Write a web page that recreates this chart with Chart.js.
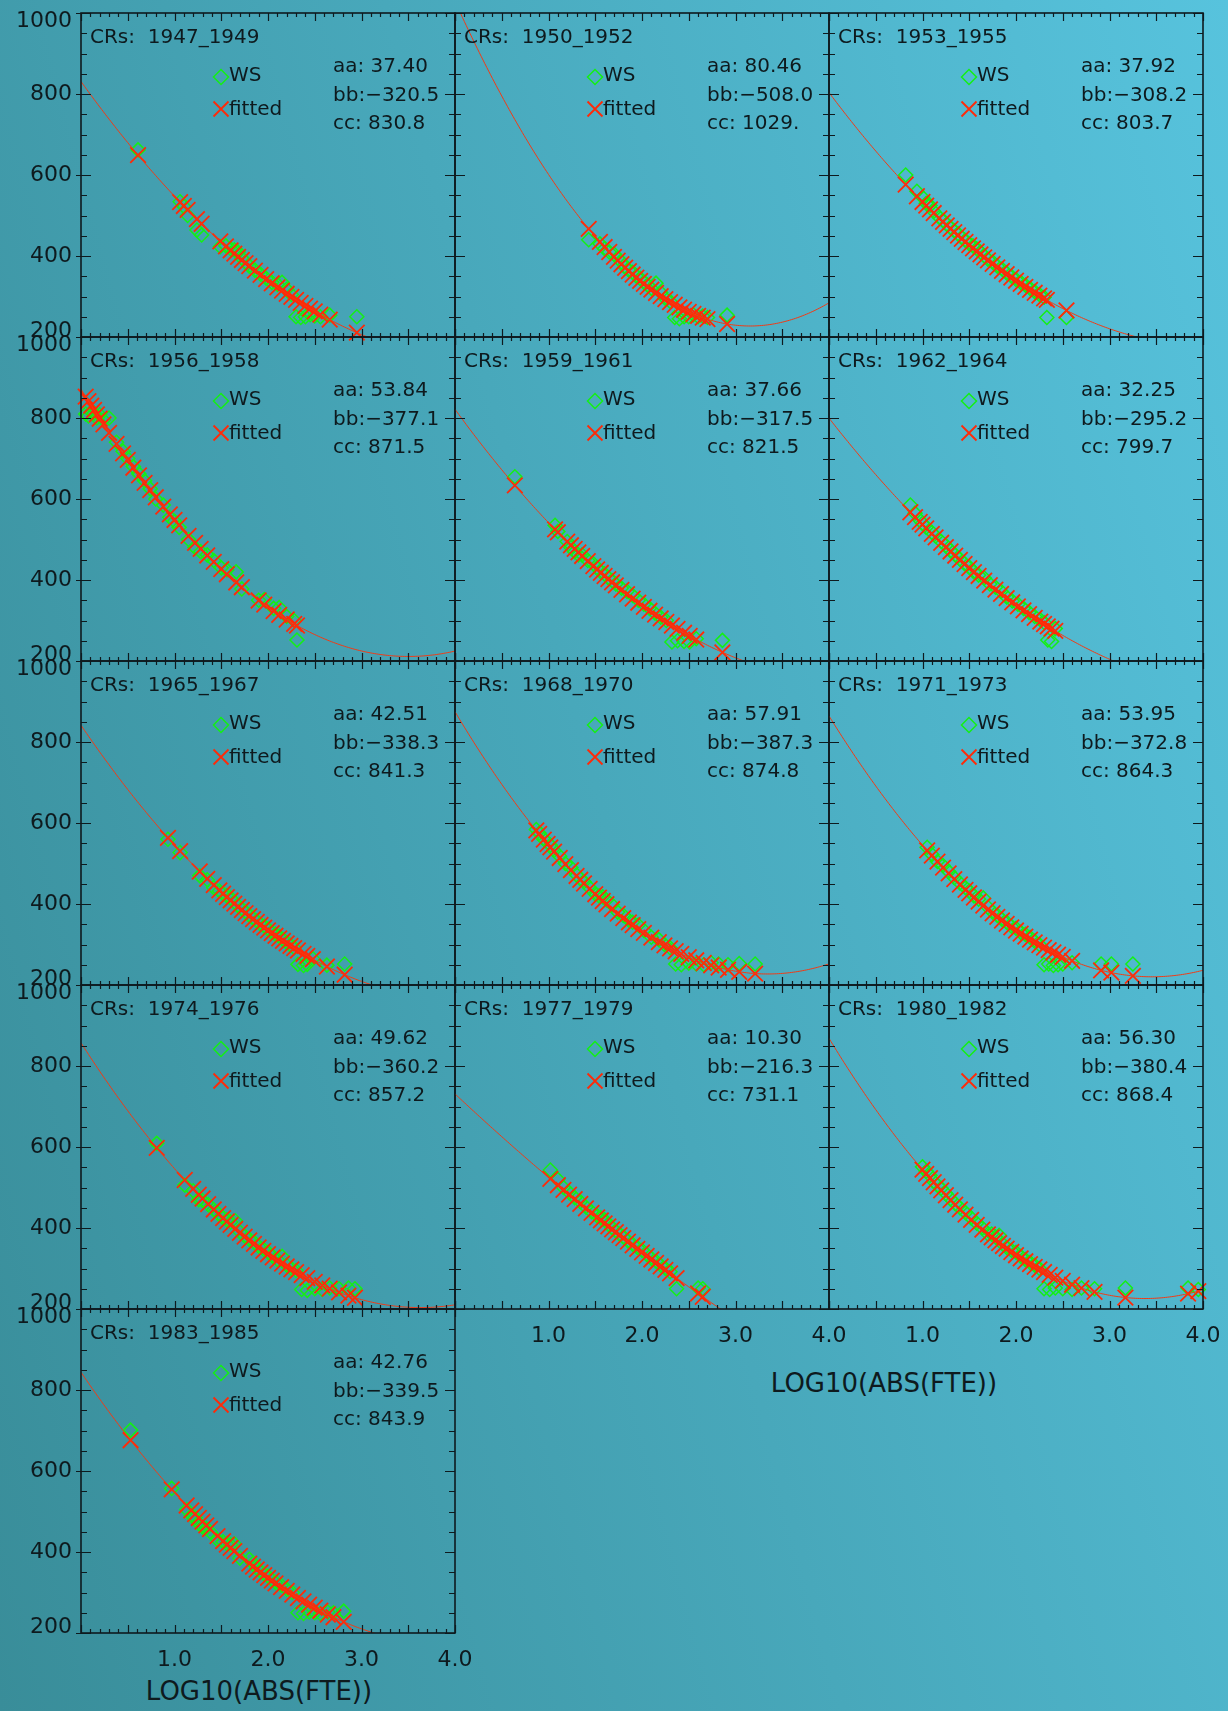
<!DOCTYPE html>
<html lang="en">
<head>
  <meta charset="UTF-8">
  <title>WS vs LOG10(ABS(FTE)) fits</title>
  <script src="https://cdn.jsdelivr.net/npm/chart.js"></script>
  <style>
    html, body { margin: 0; padding: 0; }
    body {
      width: 1228px;
      height: 1711px;
      position: relative;
      overflow: hidden;
      background: linear-gradient(75deg, #398d99 0%, #57c3dd 100%);
      font-family: 'DejaVu Sans', sans-serif;
    }
    canvas { position: absolute; }
    .xtitle {
      position: absolute;
      font-size: 26px;
      color: #0e1a1e;
      transform: translate(-50%, -50%);
      white-space: nowrap;
    }
  </style>
</head>
<body>
  <div class="xtitle" style="left:259px; top:1691px">LOG10(ABS(FTE))</div>
  <div class="xtitle" style="left:884px; top:1383px">LOG10(ABS(FTE))</div>

  <script>
    // Carrington rotation groups, one panel each
    const periods = ['1947_1949', '1950_1952', '1953_1955', '1956_1958', '1959_1961', '1962_1964',
                     '1965_1967', '1968_1970', '1971_1973', '1974_1976', '1977_1979', '1980_1982', '1983_1985'];

    // fit coefficients: WS = aa*x^2 + bb*x + cc
    const coefA = [37.40, 80.46, 37.92, 53.84, 37.66, 32.25, 42.51, 57.91, 53.95, 49.62, 10.30, 56.30, 42.76];
    const coefB = [-320.5, -508.0, -308.2, -377.1, -317.5, -295.2, -338.3, -387.3, -372.8, -360.2, -216.3, -380.4, -339.5];
    const coefC = [830.8, 1029, 803.7, 871.5, 821.5, 799.7, 841.3, 874.8, 864.3, 857.2, 731.1, 868.4, 843.9];

    // x = LOG10(ABS(FTE)) per panel
    const logFte = [
      [0.61,1.06,1.10,1.14,1.24,1.29,1.49,1.55,1.60,1.64,1.68,1.72,1.76,1.80,1.86,1.92,1.98,2.04,2.10,2.15,2.20,2.25,2.30,2.35,2.40,2.45,2.50,2.56,2.66,2.95],
      [1.43,1.55,1.60,1.65,1.70,1.74,1.78,1.82,1.86,1.90,1.94,1.98,2.02,2.06,2.10,2.15,2.20,2.25,2.30,2.35,2.40,2.45,2.50,2.55,2.60,2.65,2.70,2.91],
      [0.82,0.94,1.00,1.04,1.08,1.12,1.18,1.22,1.26,1.30,1.34,1.38,1.42,1.46,1.50,1.54,1.58,1.62,1.66,1.70,1.75,1.80,1.85,1.90,1.95,2.00,2.05,2.10,2.15,2.20,2.25,2.30,2.33,2.54],
      [0.05,0.08,0.11,0.14,0.17,0.20,0.24,0.30,0.38,0.45,0.50,0.56,0.62,0.68,0.74,0.80,0.88,0.95,1.00,1.05,1.15,1.22,1.28,1.35,1.42,1.50,1.56,1.66,1.72,1.90,1.96,2.06,2.12,2.20,2.28,2.31],
      [0.64,1.07,1.10,1.20,1.24,1.28,1.32,1.36,1.42,1.48,1.52,1.56,1.60,1.64,1.68,1.72,1.78,1.84,1.90,1.96,2.02,2.08,2.14,2.20,2.26,2.32,2.38,2.45,2.51,2.58,2.86],
      [0.87,0.92,0.97,1.00,1.04,1.10,1.14,1.20,1.25,1.30,1.35,1.40,1.45,1.50,1.55,1.60,1.66,1.72,1.78,1.84,1.90,1.96,2.02,2.08,2.14,2.20,2.26,2.30,2.34,2.38,2.42],
      [0.93,1.06,1.27,1.35,1.42,1.48,1.52,1.56,1.60,1.64,1.68,1.72,1.76,1.80,1.84,1.88,1.92,1.96,2.00,2.04,2.08,2.12,2.16,2.20,2.24,2.28,2.32,2.38,2.42,2.48,2.63,2.82],
      [0.87,0.90,0.95,0.99,1.02,1.06,1.12,1.18,1.24,1.30,1.34,1.38,1.44,1.50,1.54,1.58,1.62,1.68,1.74,1.80,1.86,1.90,1.96,2.02,2.10,2.18,2.24,2.30,2.36,2.42,2.50,2.58,2.66,2.74,2.82,2.92,3.04,3.21],
      [1.05,1.10,1.16,1.22,1.28,1.34,1.40,1.46,1.50,1.55,1.60,1.65,1.70,1.75,1.80,1.85,1.90,1.95,2.00,2.05,2.10,2.15,2.20,2.25,2.30,2.35,2.40,2.45,2.50,2.60,2.91,3.02,3.25],
      [0.81,1.11,1.20,1.26,1.30,1.36,1.42,1.47,1.52,1.56,1.60,1.65,1.70,1.75,1.80,1.85,1.90,1.95,2.00,2.05,2.10,2.15,2.20,2.25,2.30,2.36,2.42,2.50,2.58,2.66,2.76,2.86,2.93],
      [1.02,1.10,1.16,1.22,1.28,1.34,1.40,1.46,1.52,1.56,1.60,1.64,1.68,1.72,1.76,1.80,1.85,1.90,1.95,2.00,2.05,2.10,2.15,2.20,2.25,2.30,2.37,2.60,2.65],
      [1.00,1.04,1.08,1.12,1.16,1.20,1.25,1.30,1.35,1.40,1.46,1.52,1.58,1.64,1.70,1.74,1.78,1.82,1.86,1.90,1.95,2.00,2.05,2.10,2.15,2.20,2.25,2.30,2.36,2.42,2.50,2.60,2.70,2.84,3.17,3.84,3.95],
      [0.53,0.97,1.13,1.18,1.22,1.26,1.30,1.34,1.38,1.46,1.52,1.56,1.60,1.64,1.70,1.80,1.84,1.88,1.92,1.96,2.00,2.04,2.08,2.14,2.20,2.26,2.32,2.38,2.44,2.50,2.56,2.64,2.70,2.81]
    ];

    // observed WS values, same order as logFte
    const wsValues = [
      [662,534,522,500,464,452,423,425,418,415,410,395,385,375,365,355,345,335,330,335,318,305,250,248,250,255,252,250,254,250],
      [440,430,418,410,405,395,385,372,365,360,350,345,335,328,320,333,310,295,288,248,245,250,250,255,250,252,248,254],
      [600,560,545,530,525,510,495,488,478,470,462,455,445,438,430,425,418,410,400,392,385,375,368,358,350,342,335,328,320,312,305,298,248,248],
      [810,805,815,812,800,808,795,800,740,718,700,680,662,645,625,600,585,555,545,530,500,480,470,462,448,430,425,420,378,350,352,330,332,310,300,252],
      [655,535,520,495,480,470,462,462,448,440,430,420,415,405,398,390,380,372,362,350,340,330,318,308,300,247,250,248,247,255,251],
      [585,565,548,540,530,518,508,495,485,472,462,452,440,432,420,412,405,390,382,372,358,348,340,330,320,310,302,295,252,248,280],
      [560,527,470,460,440,432,425,420,415,405,395,388,380,372,365,358,350,345,338,330,325,320,312,305,298,292,251,248,251,265,249,252],
      [584,575,560,552,545,532,518,500,490,472,462,455,440,425,420,418,410,398,380,372,360,355,348,335,318,312,300,292,252,250,254,252,250,255,252,250,253,252],
      [540,522,505,495,480,465,452,440,432,420,412,415,392,380,372,362,355,345,340,330,325,318,308,300,250,252,248,250,252,255,252,252,252],
      [609,506,492,470,468,458,445,435,425,420,415,418,390,380,372,365,355,348,340,330,322,330,308,300,295,248,246,250,248,252,250,252,250],
      [543,520,500,488,475,465,452,440,430,425,420,410,400,392,385,378,368,360,352,345,335,325,318,308,300,292,250,252,250],
      [551,540,530,515,505,498,485,472,460,450,438,425,412,400,385,385,378,382,360,352,345,340,330,322,315,308,300,250,248,252,250,248,252,250,252,252,248],
      [701,557,505,490,485,470,462,458,450,430,425,420,418,420,385,382,372,360,352,345,340,332,325,318,308,300,250,248,252,250,248,252,250,254]
    ];

    const xTickLabels = ['1.0', '2.0', '3.0', '4.0'];
    const yTickLabels = [200, 400, 600, 800, 1000];

    const colLeft = [81, 455, 829];
    const rowTop = [13, 337, 661, 985, 1309];
    const plotW = 374, plotH = 324;
    const padL = 81, padT = 14, padR = 34, padB = 50;
    const ink = '#0e1a1e';
    const wsColor = '#14f014';
    const fitColor = '#ff2a08';
    const bottomPanels = [10, 11, 12];   // panels that carry x tick labels

    function fitValue(i, x) {
      return coefA[i] * x * x + coefB[i] * x + coefC[i];
    }

    // IDL-like number formatting (5 significant chars)
    function fmtCoef(v) {
      const a = Math.abs(v);
      const s = a >= 1000 ? Math.round(a) + '.' : a >= 100 ? a.toFixed(1) : a.toFixed(2);
      return (v < 0 ? '\u2212' : '') + s;
    }

    function crisp(v) { return Math.round(v) + 0.5; }

    // frame, inward ticks, labels and panel annotations
    const idlFrame = {
      id: 'idlFrame',
      afterDatasetsDraw(chart, args, opts) {
        const { ctx, chartArea: a, scales: { x, y } } = chart;
        const i = opts.panel;
        ctx.save();

        ctx.strokeStyle = ink;
        ctx.lineWidth = 1.6;
        ctx.strokeRect(a.left, a.top, a.right - a.left, a.bottom - a.top);

        ctx.lineWidth = 1.2;
        ctx.beginPath();
        for (let k = 0; k <= 40; k++) {
          const px = crisp(x.getPixelForValue(k / 10));
          const len = k % 5 === 0 ? 8 : 4;
          ctx.moveTo(px, a.bottom); ctx.lineTo(px, a.bottom - len);
          ctx.moveTo(px, a.top); ctx.lineTo(px, a.top + len);
        }
        for (let v = 200; v <= 1000; v += 50) {
          const py = crisp(y.getPixelForValue(v));
          const major = v % 200 === 0;
          const len = major ? 10 : 6;
          ctx.moveTo(a.left - (major ? 5 : 0), py); ctx.lineTo(a.left + len, py);
          ctx.moveTo(a.right, py); ctx.lineTo(a.right - len, py);
        }
        ctx.stroke();

        ctx.fillStyle = ink;
        ctx.font = '22px "DejaVu Sans"';
        ctx.textBaseline = 'middle';
        if (i % 3 === 0) {
          ctx.textAlign = 'right';
          yTickLabels.forEach(v => {
            let py = y.getPixelForValue(v);
            if (v === 1000) py += 8;
            if (v === 200) py -= 6;
            ctx.fillText(String(v), a.left - 9, py);
          });
        }
        if (bottomPanels.includes(i)) {
          ctx.textAlign = 'center';
          xTickLabels.forEach(t => {
            ctx.fillText(t, x.getPixelForValue(parseFloat(t)), a.bottom + 27);
          });
        }

        ctx.textAlign = 'left';
        ctx.font = '20px "DejaVu Sans"';
        ctx.fillText('CRs:  ' + periods[i], a.left + 9, a.top + 25);
        ctx.fillText('WS', a.left + 148, a.top + 63);
        ctx.fillText('fitted', a.left + 148, a.top + 97);
        ctx.fillText('aa: ' + fmtCoef(coefA[i]), a.left + 252, a.top + 54);
        ctx.fillText('bb:' + fmtCoef(coefB[i]), a.left + 252, a.top + 83);
        ctx.fillText('cc: ' + fmtCoef(coefC[i]), a.left + 252, a.top + 111);

        // legend symbols
        const lx = a.left + 140;
        ctx.lineWidth = 1.5;
        ctx.strokeStyle = wsColor;
        ctx.beginPath();
        ctx.moveTo(lx - 7.5, a.top + 64); ctx.lineTo(lx, a.top + 56.5);
        ctx.lineTo(lx + 7.5, a.top + 64); ctx.lineTo(lx, a.top + 71.5);
        ctx.closePath();
        ctx.stroke();
        ctx.strokeStyle = fitColor;
        ctx.lineWidth = 1.8;
        ctx.beginPath();
        ctx.moveTo(lx - 7.5, a.top + 88.5); ctx.lineTo(lx + 7.5, a.top + 103.5);
        ctx.moveTo(lx + 7.5, a.top + 88.5); ctx.lineTo(lx - 7.5, a.top + 103.5);
        ctx.stroke();

        ctx.restore();
      }
    };

    const curveX = Array.from({ length: 201 }, (_, k) => k * 0.02);

    periods.forEach((period, i) => {
      const col = i % 3, row = Math.floor(i / 3);
      const canvas = document.createElement('canvas');
      canvas.width = padL + plotW + padR;
      canvas.height = padT + plotH + padB;
      canvas.style.left = (colLeft[col] - padL) + 'px';
      canvas.style.top = (rowTop[row] - padT) + 'px';
      document.body.appendChild(canvas);

      const wsPoints = logFte[i].map((x, k) => ({ x: x, y: wsValues[i][k] }));
      const fitPoints = logFte[i].map(x => ({ x: x, y: fitValue(i, x) }));
      const curvePoints = curveX.map(x => ({ x: x, y: fitValue(i, x) }));

      new Chart(canvas.getContext('2d'), {
        type: 'scatter',
        data: {
          datasets: [
            {
              label: 'curve',
              data: curvePoints,
              showLine: true,
              borderColor: '#f23a14',
              borderWidth: 1,
              pointRadius: 0,
              clip: 0,
              order: 1
            },
            {
              label: 'WS',
              data: wsPoints,
              pointStyle: 'rectRot',
              pointRadius: 7,
              borderColor: wsColor,
              backgroundColor: 'rgba(0,0,0,0)',
              borderWidth: 1.5,
              clip: false,
              order: 3
            },
            {
              label: 'fitted',
              data: fitPoints,
              pointStyle: 'crossRot',
              pointRadius: 11,
              borderColor: fitColor,
              borderWidth: 1.8,
              clip: false,
              order: 2
            }
          ]
        },
        options: {
          responsive: false,
          animation: false,
          devicePixelRatio: 1,
          events: [],
          layout: { padding: { left: padL, top: padT, right: padR, bottom: padB } },
          scales: {
            x: { type: 'linear', min: 0, max: 4, display: false },
            y: { type: 'linear', min: 200, max: 1000, display: false }
          },
          plugins: {
            legend: { display: false },
            tooltip: { enabled: false },
            idlFrame: { panel: i }
          }
        },
        plugins: [idlFrame]
      });
    });
  </script>
</body>
</html>
